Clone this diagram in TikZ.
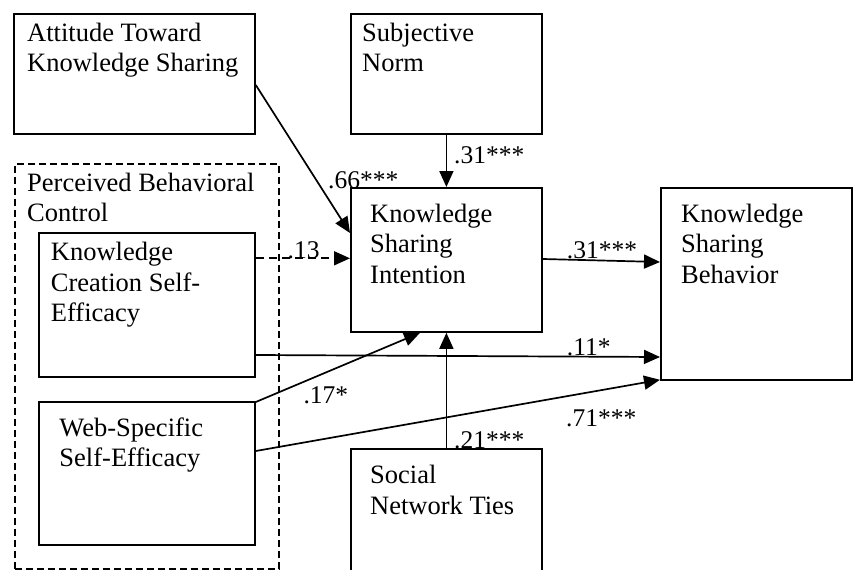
\documentclass[tikz,border=0pt]{standalone}
\usepackage{fontspec}
\setmainfont{Liberation Serif}
\usetikzlibrary{arrows.meta,calc}
\begin{document}
\begin{tikzpicture}[x=1pt,y=-1pt,
  box/.style={draw,line width=1.8pt,rectangle,inner sep=0pt,anchor=north west},
  dbox/.style={box,line width=1.6pt,dash pattern=on 7pt off 4pt},
  txt/.style={inner sep=0pt,anchor=base west,align=left,font=\fontsize{26.5}{30.5}\selectfont},
  lab/.style={inner sep=0pt,anchor=base west,font=\fontsize{25.5}{28}\selectfont},
  conn/.style={line width=1.7pt,-{Triangle[length=16pt,width=14pt]}},
  dconn/.style={conn,dash pattern=on 8pt off 5pt}
]
\clip (0,0) rectangle (855,570);
\useasboundingbox (0,0) rectangle (855,570);
% boxes
\node[box,minimum width=241pt,minimum height=120pt] (att) at (13,13) {};
\node[box,minimum width=191pt,minimum height=120pt] (sn) at (350,13) {};
\node[dbox,minimum width=264pt,minimum height=405pt] (pbc) at (14,163) {};
\node[box,minimum width=216pt,minimum height=144pt] (kcse) at (38,232) {};
\node[box,minimum width=216pt,minimum height=143pt] (wsse) at (38,401) {};
\node[box,minimum width=191pt,minimum height=144pt] (ksi) at (350,187) {};
\node[box,minimum width=191pt,minimum height=192pt] (ksb) at (660,187) {};
\node[box,minimum width=191pt,minimum height=140pt] (snt) at (350,448) {};
% texts (anchor = baseline of last line)
\node[txt] (tatt) at (27,71.7) {Attitude Toward\\Knowledge Sharing};
\node[txt] (tsn) at (362,71.7) {Subjective\\Norm};
\node[txt] (tpbc) at (27,221.7) {Perceived Behavioral\\Control};
\node[txt] (tkcse) at (50.7,321.7) {Knowledge\\Creation Self-\\Efficacy};
\node[txt] (twsse) at (59.3,466.7) {Web-Specific\\Self-Efficacy};
\node[txt] (tksi) at (370,283) {Knowledge\\Sharing\\Intention};
\node[txt] (tksb) at (681,283) {Knowledge\\Sharing\\Behavior};
\node[txt] (tsnt) at (370,514.3) {Social\\Network Ties};
% connectors
\draw[conn] ($(att.north east)+(0,72)$) -- ($(ksi.north west)+(0,46)$);
\draw[conn] (sn.south) -- (ksi.north);
\draw[dconn] ($(kcse.north east)+(0,26.3)$) -- ($(ksi.north west)+(0,71.3)$);
\draw[conn] ($(ksi.north east)+(0,72)$) -- ($(ksb.north west)+(0,75)$);
\draw[conn] ($(kcse.north east)+(0,123)$) -- ($(ksb.north west)+(0,170)$);
\draw[conn] ($(wsse.north east)+(0,1)$) -- ($(ksi.south west)+(70,0)$);
\draw[conn] ($(wsse.north east)+(0,50)$) -- ($(ksb.south west)+(0,-1)$);
\draw[conn] (snt.north) -- (ksi.south);
% labels
\node[lab] (l1) at (328,188) {.66***};
\node[lab] (l2) at (454,163) {.31***};
\node[lab] (l3) at (287.5,258.3) {.13};
\node[lab] (l4) at (566.7,258.3) {.31***};
\node[lab] (l5) at (566.7,355) {.11*};
\node[lab] (l6) at (303.3,403.3) {.17*};
\node[lab] (l7) at (566,426.7) {.71***};
\node[lab] (l8) at (454,448.3) {.21***};
\end{tikzpicture}
\end{document}
